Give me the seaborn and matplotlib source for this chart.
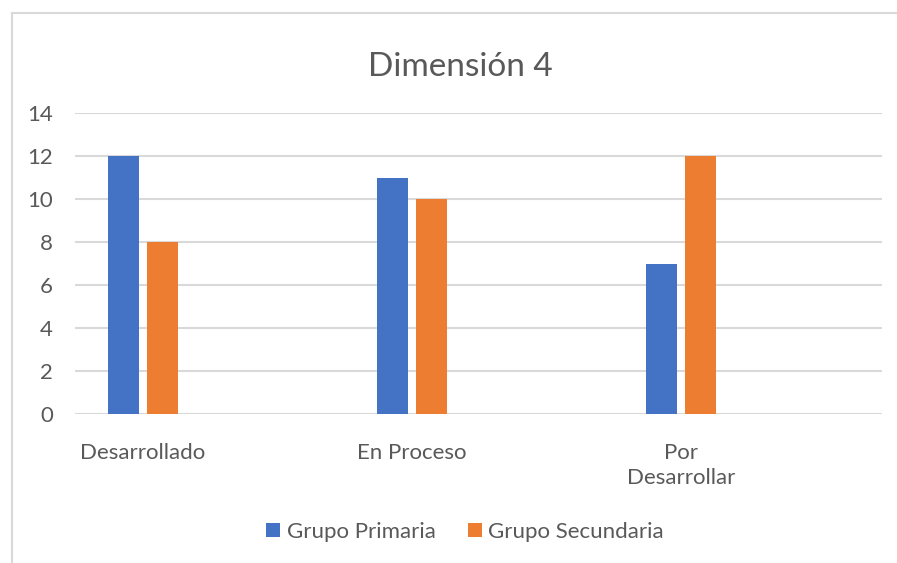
import matplotlib
matplotlib.use("Agg")
import matplotlib.pyplot as plt
import seaborn as sns
import pandas as pd
from matplotlib.patches import Patch

categorias = ["Desarrollado", "En Proceso", "Por\nDesarrollar"]
grupos = ["Grupo Primaria", "Grupo Secundaria"]
primaria = [12, 11, 7]
secundaria = [8, 10, 12]
colores = ["#4472C4", "#ED7D31"]
yticks = [0, 2, 4, 6, 8, 10, 12, 14]

df = pd.DataFrame({
    "categoria": categorias * 2,
    "grupo": [grupos[0]] * 3 + [grupos[1]] * 3,
    "valor": primaria + secundaria,
})

sns.set_style("white")
plt.rcParams["font.family"] = ["Lato", "DejaVu Sans"]
texto = "#595959"
gris = "#D9D9D9"

W, H = 897, 563
fig = plt.figure(figsize=(W / 100, H / 100), dpi=100)
ax = fig.add_axes([75 / W, 1 - 414 / H, (882 - 75) / W, (414 - 113) / H])

sns.barplot(data=df, x="categoria", y="valor", hue="grupo", order=categorias,
            hue_order=grupos, palette=colores, width=0.29, gap=0.2,
            saturation=1, linewidth=0, legend=False, ax=ax)

ax.set_xlim(-0.253, 2.747)
ax.set_ylim(0, 14)
ax.set_yticks(yticks)
ax.yaxis.grid(True, color=gris, linewidth=1.5)
ax.set_axisbelow(True)
for s in ax.spines.values():
    s.set_visible(False)
ax.tick_params(axis="both", length=0, colors=texto, labelsize=16)
ax.tick_params(axis="x", pad=21)
ax.tick_params(axis="y", pad=16)
for lbl in ax.get_xticklabels():
    lbl.set_linespacing(1.3)
ax.set_xlabel("")
ax.set_ylabel("")

fig.text(460 / W, 1 - 67 / H, "Dimensión 4", ha="center", va="center",
         fontsize=24, color=texto)

handles = [Patch(facecolor=c, edgecolor="none") for c in colores]
fig.legend(handles, grupos, loc="center", bbox_to_anchor=(465 / W, 1 - 532 / H),
           ncol=2, frameon=False, fontsize=16, labelcolor=texto,
           handlelength=0.62, handleheight=0.62, handletextpad=0.3,
           columnspacing=1.45)

# borde del gráfico
fig.add_artist(plt.Line2D([12 / W, 12 / W], [0, 1 - 13 / H], color=gris, lw=1.5))
fig.add_artist(plt.Line2D([12 / W, 1], [1 - 13 / H, 1 - 13 / H], color=gris, lw=1.5))

fig.savefig("out.png", dpi=100, facecolor="white")
